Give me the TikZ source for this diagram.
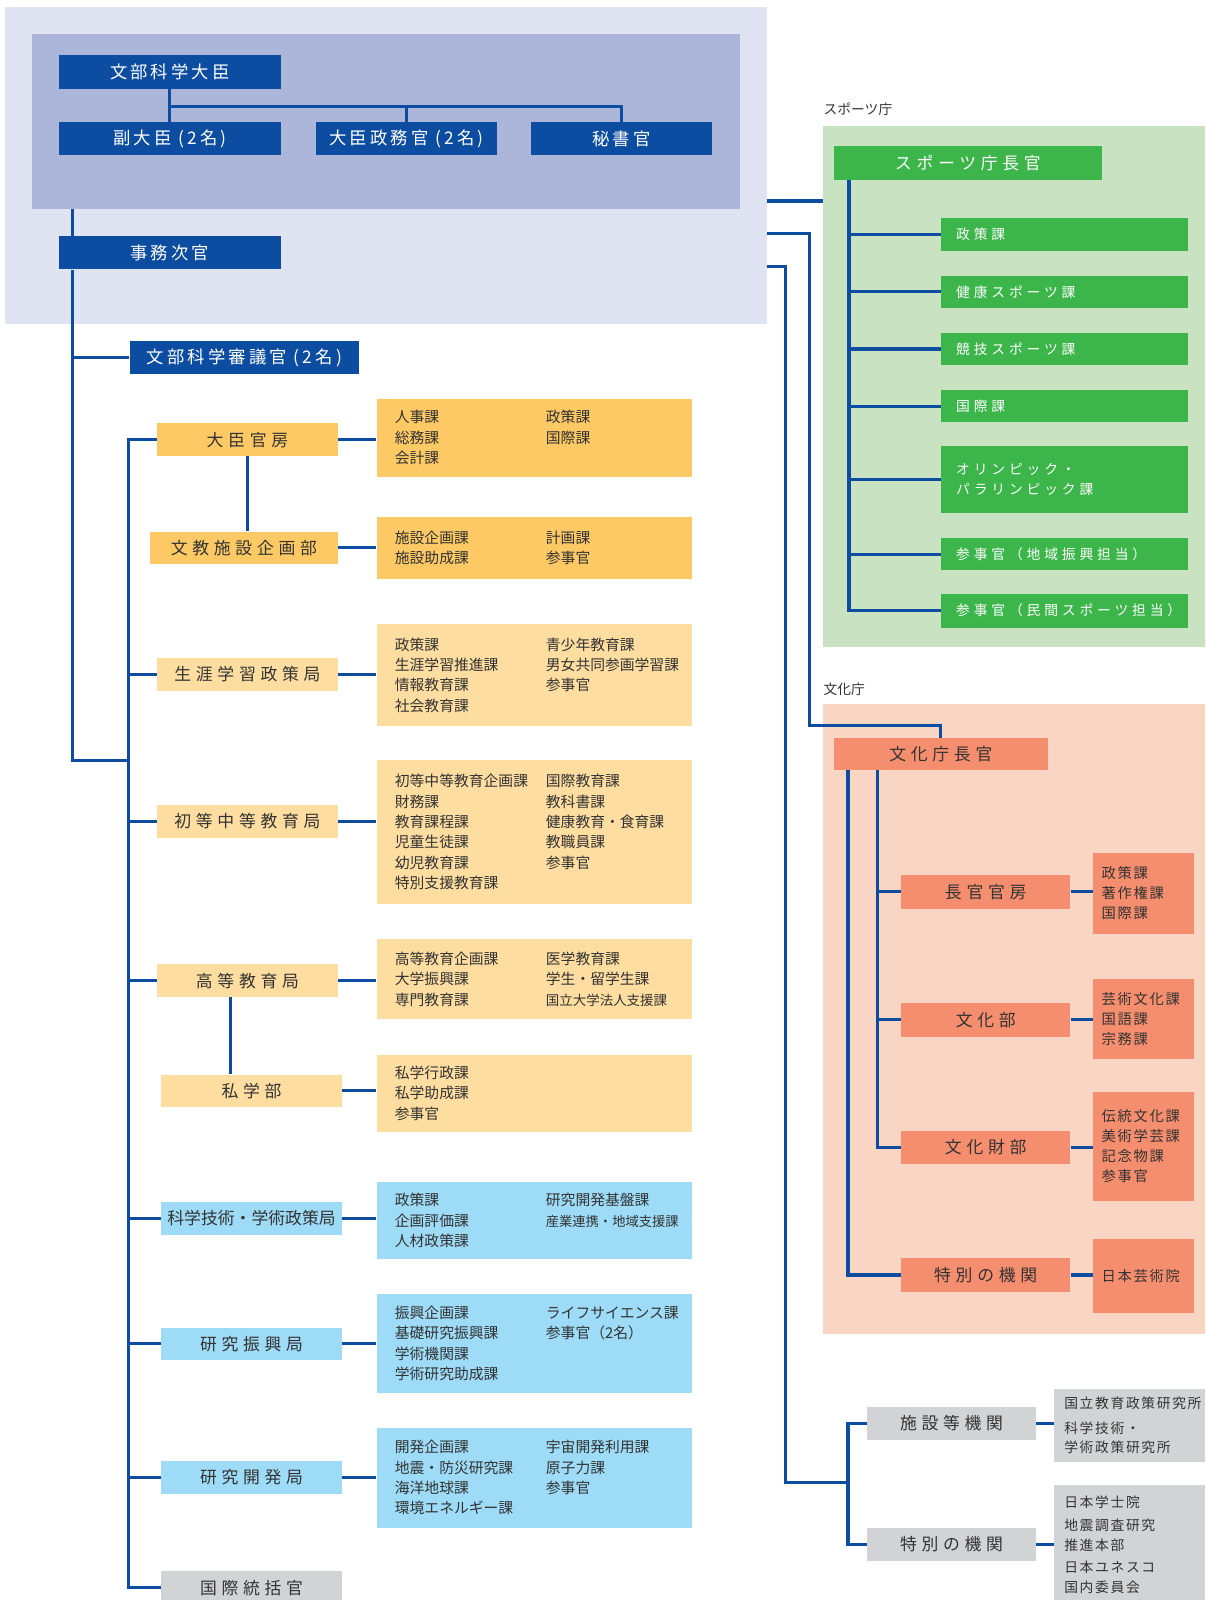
\documentclass[tikz,border=0pt]{standalone}
\usepackage{fontspec}
\setmainfont{Noto Sans CJK JP}
\newfontfamily\widejp[LetterSpace=28]{Noto Sans CJK JP}
\newfontfamily\midjp[LetterSpace=18]{Noto Sans CJK JP}
\newfontfamily\smalljp[LetterSpace=12]{Noto Sans CJK JP}

\definecolor{navy}{HTML}{0D4DA1}
\definecolor{topouter}{HTML}{DFE3F2}
\definecolor{topinner}{HTML}{ACB5DA}
\definecolor{orangeA}{HTML}{FDC964}
\definecolor{orangeB}{HTML}{FEDDA0}
\definecolor{skyC}{HTML}{9DDBF7}
\definecolor{grayD}{HTML}{D2D3D5}
\definecolor{greenE}{HTML}{3CB54A}
\definecolor{greenbg}{HTML}{C9E3C2}
\definecolor{salmon}{HTML}{F58E6E}
\definecolor{salmonbg}{HTML}{F9D5C4}
\definecolor{ink}{HTML}{333333}

\newcommand\dpair[2]{\makebox[148pt][l]{#1}#2}

\begin{document}
\begin{tikzpicture}[x=1pt, y=-1pt,
	orgbox/.style={rectangle, inner sep=0pt, text=ink},
	area/.style={orgbox, fill=#1},
	navybox/.style={orgbox, fill=navy, text=white, minimum height=33, font=\midjp\fontsize{17}{20}\selectfont},
	head/.style={orgbox, minimum width=177, minimum height=32, font=\widejp\fontsize{16.5}{19}\selectfont},
	detail/.style={orgbox, minimum width=309, text width=273, inner xsep=18, align=left, font=\fontsize{14.5}{20}\selectfont},
	sub/.style={orgbox, fill=greenE, text=white, minimum width=242, minimum height=32, text width=212, inner xsep=15, align=left, font=\widejp\fontsize{13.5}{19}\selectfont},
	cuhead/.style={head, fill=salmon, minimum width=166, minimum height=33},
	cudetail/.style={orgbox, fill=salmon, minimum width=99, text width=82, inner xsep=8.5, align=left, font=\smalljp\fontsize{14}{19.5}\selectfont},
	insthead/.style={head, fill=grayD, minimum width=165},
	instdetail/.style={orgbox, fill=grayD, minimum width=148, text width=128, inner xsep=10, align=left, font=\smalljp\fontsize{13.5}{19}\selectfont},
	link/.style={draw=navy, line width=3pt}
	]
	\path[use as bounding box, fill=white] (0,0) rectangle (1181,1568);

	% Background panels
	\node[area=topouter, minimum width=747, minimum height=311] (outer) at (378.5,162.5) {};
	\node[area=topinner, minimum width=694, minimum height=172] (inner) at (378,119) {};
	\node[area=greenbg, minimum width=374, minimum height=511] (sportsarea) at (994,378.5) {};
	\node[area=salmonbg, minimum width=374, minimum height=617] (culturearea) at (994,998.5) {};
	\node[orgbox, anchor=west, font=\fontsize{13.5}{16}\selectfont] (sportslabel) at (807,107) {スポーツ庁};
	\node[orgbox, anchor=west, font=\fontsize{13.5}{16}\selectfont] (culturelabel) at (807,675) {文化庁};

	% Minister and staff
	\node[navybox, minimum width=217] (minister) at (166.5,70.5) {文部科学大臣};
	\node[navybox, minimum width=217, minimum height=32] (vice) at (166.5,136) {副大臣 (2名)};
	\node[navybox, minimum width=177, minimum height=32] (parl) at (398.5,136) {大臣政務官 (2名)};
	\node[navybox, minimum width=178, minimum height=32] (secr) at (609,136) {秘書官};
	\node[navybox, minimum width=217] (vicemin) at (166.5,247.5) {事務次官};
	\node[navybox, minimum width=225] (council) at (239.5,350.5) {文部科学審議官 (2名)};

	% Bureaus
	\node[head, fill=orangeA] (kanbo) at (242.5,431) {大臣官房};
	\node[head, fill=orangeA, minimum width=184] (shisetsu) at (239,537) {文教施設企画部};
	\node[head, fill=orangeB] (shogai) at (242.5,661) {生涯学習政策局};
	\node[head, fill=orangeB] (shoto) at (242.5,805) {初等中等教育局};
	\node[head, fill=orangeB] (koto) at (242.5,961) {高等教育局};
	\node[head, fill=orangeB] (shigaku) at (246.5,1069) {私学部};
	\node[head, fill=skyC, font=\fontsize{16.5}{19}\selectfont] (kagaku) at (246.5,1194) {科学技術・学術政策局};
	\node[head, fill=skyC] (kenshin) at (246.5,1317) {研究振興局};
	\node[head, fill=skyC] (kenkai) at (246.5,1448) {研究開発局};
	\node[head, fill=grayD] (kokusai) at (246.5,1556) {国際統括官};

	% Divisions
	\node[detail, fill=orangeA, minimum height=76] (d1) at (523.5,429) {\dpair{人事課}{政策課}\\\dpair{総務課}{国際課}\\会計課};
	\node[detail, fill=orangeA, minimum height=60] (d2) at (523.5,537) {\dpair{施設企画課}{計画課}\\\dpair{施設助成課}{参事官}};
	\node[detail, fill=orangeB, minimum height=99] (d3) at (523.5,661.5) {\dpair{政策課}{青少年教育課}\\\dpair{生涯学習推進課}{男女共同参画学習課}\\\dpair{情報教育課}{参事官}\\社会教育課};
	\node[detail, fill=orangeB, minimum height=141] (d4) at (523.5,815.5) {\dpair{初等中等教育企画課}{国際教育課}\\\dpair{財務課}{教科書課}\\\dpair{教育課程課}{健康教育・食育課}\\\dpair{児童生徒課}{教職員課}\\\dpair{幼児教育課}{参事官}\\特別支援教育課};
	\node[detail, fill=orangeB, minimum height=79] (d5) at (523.5,959.5) {\dpair{高等教育企画課}{医学教育課}\\\dpair{大学振興課}{学生・留学生課}\\\dpair{専門教育課}{{\fontsize{13.2}{20}\selectfont 国立大学法人支援課}}};
	\node[detail, fill=orangeB, minimum height=75] (d6) at (523.5,1071.5) {私学行政課\\私学助成課\\参事官};
	\node[detail, fill=skyC, minimum height=76] (d7) at (523.5,1196) {\dpair{政策課}{研究開発基盤課}\\\dpair{企画評価課}{{\fontsize{13}{20}\selectfont 産業連携・地域支援課}}\\人材政策課};
	\node[detail, fill=skyC, minimum height=97] (d8) at (523.5,1316.5) {\dpair{振興企画課}{ライフサイエンス課}\\\dpair{基礎研究振興課}{参事官（2名）}\\学術機関課\\学術研究助成課};
	\node[detail, fill=skyC, minimum height=98] (d9) at (523.5,1448) {\dpair{開発企画課}{宇宙開発利用課}\\\dpair{地震・防災研究課}{原子力課}\\\dpair{海洋地球課}{参事官}\\環境エネルギー課};

	% Sports agency
	\node[orgbox, fill=greenE, text=white, minimum width=263, minimum height=33, font=\widejp\fontsize{16.5}{19}\selectfont] (sportschief) at (948.5,159.5) {スポーツ庁長官};
	\node[sub] (sp1) at (1043,230) {政策課};
	\node[sub] (sp2) at (1043,286) {健康スポーツ課};
	\node[sub] (sp3) at (1043,342) {競技スポーツ課};
	\node[sub] (sp4) at (1043,398) {国際課};
	\node[sub, minimum height=66] (sp5) at (1043,470) {オリンピック・\\パラリンピック課};
	\node[sub] (sp6) at (1043,543) {参事官（地域振興担当）};
	\node[sub, minimum height=33] (sp7) at (1043,598.5) {参事官（民間スポーツ担当）};

	% Cultural agency
	\node[head, fill=salmon, minimum width=210] (culturechief) at (922,739) {文化庁長官};
	\node[cuhead] (cu1) at (966,874) {長官官房};
	\node[cuhead] (cu2) at (966,999.5) {文化部};
	\node[cuhead] (cu3) at (966,1124.5) {文化財部};
	\node[cuhead] (cu4) at (966,1249.5) {特別の機関};
	\node[cudetail, minimum height=79] (cd1) at (1120.5,875.5) {政策課\\著作権課\\国際課};
	\node[cudetail, minimum height=79] (cd2) at (1120.5,998.5) {芸術文化課\\国語課\\宗務課};
	\node[cudetail, minimum height=107] (cd3) at (1120.5,1123.5) {伝統文化課\\美術学芸課\\記念物課\\参事官};
	\node[cudetail, minimum height=73] (cd4) at (1120.5,1250.5) {日本芸術院};

	% Other bodies
	\node[insthead] (inst1) at (932.5,1395) {施設等機関};
	\node[insthead, minimum height=33] (inst2) at (932.5,1513.5) {特別の機関};
	\node[instdetail, minimum height=72] (id1) at (1107,1397) {国立教育政策研究所\\[5pt]科学技術・\\学術政策研究所};
	\node[instdetail, minimum height=117] (id2) at (1107,1513.5) {日本学士院\\[4pt]地震調査研究\\推進本部\\[3pt]日本ユネスコ\\国内委員会};

	% Join points
	\coordinate (mj) at (166.5,104);
	\coordinate (ma) at (71,205);
	\coordinate (mb) at (71,745);
	\coordinate (sb) at (126,745);
	\coordinate (out1) at (752,197);
	\coordinate (out2) at (752,229);
	\coordinate (out3) at (752,261);
	\coordinate (cj) at (922,711);
	\coordinate (bj) at (831,1453);
	\coordinate (sx) at (832,176);
	\coordinate (cx1) at (831,755);
	\coordinate (cx2) at (860,755);

	% Connect the boxes
	\draw[link] (minister.south) -- (vice.north);
	\draw[link] (mj) -| (parl.north);
	\draw[link] (mj) -| (secr.north);
	\draw[link] (ma) -- (ma |- vicemin.north);
	\draw[link] (ma |- vicemin.south) -- (mb) -- (sb);
	\draw[link] (council.west) -- (council.west -| ma);
	\draw[link] (kanbo.west) -| (sb) |- (kokusai.west);
	\foreach \n in {shogai,shoto,koto,kagaku,kenshin,kenkai}
		\draw[link] (\n.west) -- (\n.west -| sb);
	\draw[link] (kanbo.south) -- (kanbo.south |- shisetsu.north);
	\draw[link] ([xshift=-16.5pt]koto.south) -- ([xshift=-16.5pt]koto.south |- shigaku.north);
	\foreach \h/\d in {kanbo/d1,shisetsu/d2,shogai/d3,shoto/d4,koto/d5,shigaku/d6,kagaku/d7,kenshin/d8,kenkai/d9}
		\draw[link] (\h.east) -- (\h.east -| \d.west);

	\draw[link] (out1) -- (out1 -| sportsarea.west);
	\draw[link] (sx) |- (sp7.west);
	\foreach \i in {1,...,6}
		\draw[link] (sp\i.west) -- (sp\i.west -| sx);

	\draw[link] (out2) -- ++(41,0) |- (cj) -- (culturechief.north);
	\draw[link] (cx1) |- (cu4.west);
	\draw[link] (cx2) |- (cu3.west);
	\draw[link] (cu1.west) -- (cu1.west -| cx2);
	\draw[link] (cu2.west) -- (cu2.west -| cx2);
	\foreach \i in {1,...,4}
		\draw[link] (cu\i.east) -- (cu\i.east -| cd\i.west);

	\draw[link] (out3) -- ++(18,0) |- (bj);
	\draw[link] (inst1.west) -| (bj) |- (inst2.west);
	\draw[link] (inst1.east) -- (inst1.east -| id1.west);
	\draw[link] (inst2.east) -- (inst2.east -| id2.west);
\end{tikzpicture}
\end{document}
